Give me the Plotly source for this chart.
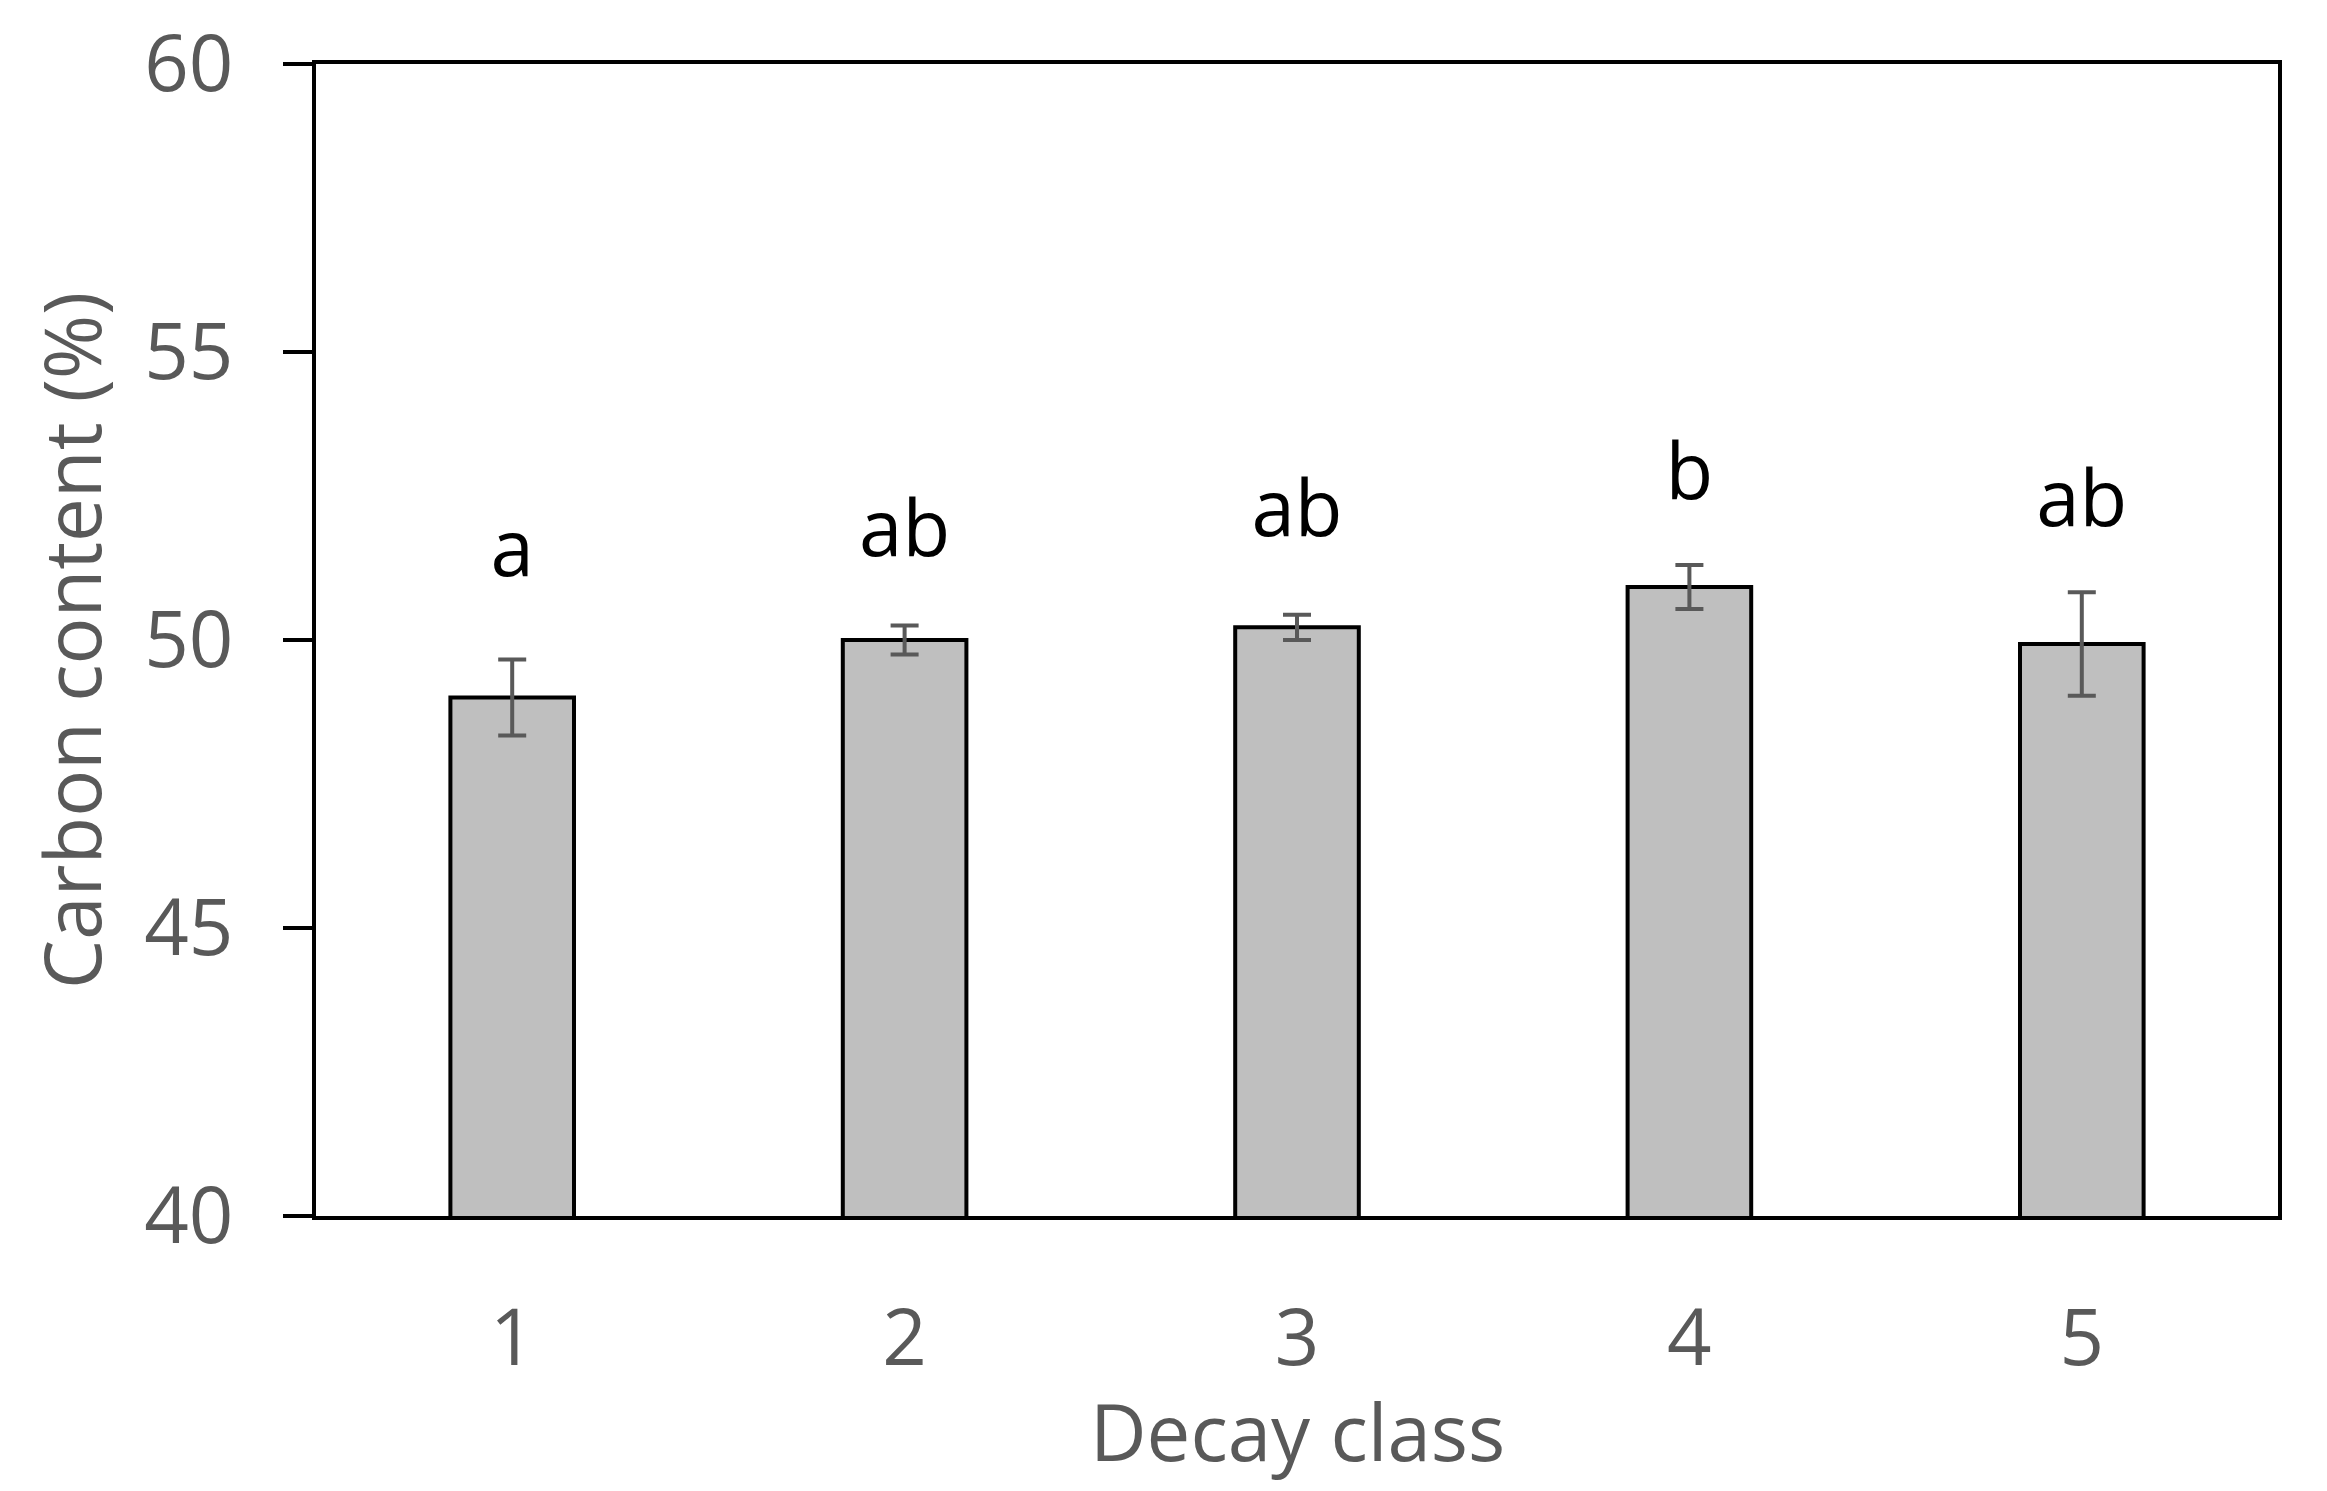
import plotly.graph_objects as go

decay_class = ["1", "2", "3", "4", "5"]
carbon_mean = [49.0, 50.0, 50.22, 50.92, 49.93]
carbon_err = [0.66, 0.25, 0.22, 0.38, 0.90]
sig_letters = ["a", "ab", "ab", "b", "ab"]
letter_y = [51.45, 51.8, 52.14, 52.78, 52.32]
y_ticks = [40, 45, 50, 55, 60]

FONT = "Open Sans"
GRAY = "#595959"

fig = go.Figure()
fig.add_trace(go.Bar(
    x=decay_class, y=carbon_mean,
    width=0.315,
    marker=dict(color="#bfbfbf", line=dict(color="black", width=4)),
    error_y=dict(type="data", array=carbon_err, visible=True,
                 color=GRAY, thickness=4, width=14),
    showlegend=False,
))
fig.add_trace(go.Scatter(
    x=decay_class, y=letter_y, text=sig_letters, mode="text",
    textposition="middle center",
    textfont=dict(family=FONT, size=78, color="black"),
    showlegend=False, hoverinfo="skip",
))

fig.update_layout(
    width=2319, height=1483,
    margin=dict(l=308, r=49, t=56, b=275, autoexpand=False),
    paper_bgcolor="white", plot_bgcolor="white",
    font=dict(family=FONT, size=78, color=GRAY),
    annotations=[
        dict(text="Carbon content (%)", xref="paper", yref="paper",
             x=-0.1249, y=0.5, textangle=-90, showarrow=False,
             xanchor="center", yanchor="middle",
             font=dict(family=FONT, size=78, color=GRAY)),
        dict(text="Decay class", xref="paper", yref="paper",
             x=0.5, y=-0.1866, showarrow=False,
             xanchor="center", yanchor="middle",
             font=dict(family=FONT, size=78, color=GRAY)),
    ],
)
fig.update_xaxes(
    type="category", showline=True, linecolor="black", linewidth=4,
    mirror=True, ticks="", showgrid=False, automargin=False,
    tickfont=dict(family=FONT, size=78, color=GRAY),
    ticklabelstandoff=51,
)
fig.update_yaxes(
    range=[40, 60], tickvals=y_ticks, showline=True, linecolor="black",
    linewidth=4, mirror=True, ticks="outside", ticklen=29, tickwidth=4,
    tickcolor="black", showgrid=False, zeroline=False, automargin=False,
    tickfont=dict(family=FONT, size=78, color=GRAY),
    ticklabelstandoff=34,
)

fig.write_html("out.html")
